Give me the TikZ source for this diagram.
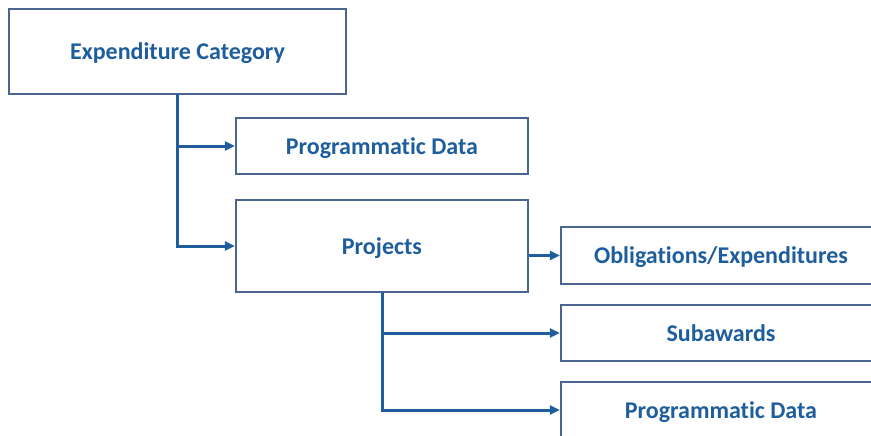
\documentclass[tikz,border=0pt]{standalone}
\usepackage{fontspec}
\setmainfont{Carlito}[Ligatures=NoCommon]
\usetikzlibrary{arrows.meta}
\definecolor{boxline}{HTML}{4A6690}
\definecolor{linkblue}{HTML}{1F5E9C}

\begin{document}
\begin{tikzpicture}[x=1pt,y=-1pt,
	box/.style={draw=boxline, line width=2.4pt, fill=white, text=linkblue,
		font=\bfseries\fontsize{24}{28}\selectfont, inner sep=0pt, text depth=0pt},
	link/.style={draw=linkblue, line width=3pt, -{Triangle[length=10pt,width=9pt]}}]
			%%%%% START %%%%%
			\useasboundingbox (0,0) rectangle (871,436);
			\clip (0,0) rectangle (871,436);
			
			\node[box, minimum width=337pt, minimum height=85pt] (cat) at (177.5, 51.5) {Expenditure Category};
			\node[box, minimum width=292pt, minimum height=56pt] (prog) at (382, 146) {Programmatic Data};
			\node[box, minimum width=292pt, minimum height=92pt] (proj) at (382, 246) {Projects};
			
			\node[box, minimum width=320pt, minimum height=57pt] (oblig) at (721, 255.5) {Obligations/Expenditures};
			\node[box, minimum width=320pt, minimum height=56pt] (subaw) at (721, 333) {Subawards};
			\node[box, minimum width=320pt, minimum height=56pt] (progb) at (721, 410) {Programmatic Data};
			
			\coordinate (catfoot) at (177, 94);
			\coordinate (projfoot) at (382, 292);
			
			\draw[link] (catfoot) |- (prog.west);
			\draw[link] (catfoot) |- (proj.west);
			\draw[link] (proj.east |- oblig.west) -- (oblig.west);
			\draw[link] (projfoot) |- (subaw.west);
			\draw[link] (projfoot) |- (progb.west);
			
			%%%%% END %%%%%
\end{tikzpicture}
\end{document}
